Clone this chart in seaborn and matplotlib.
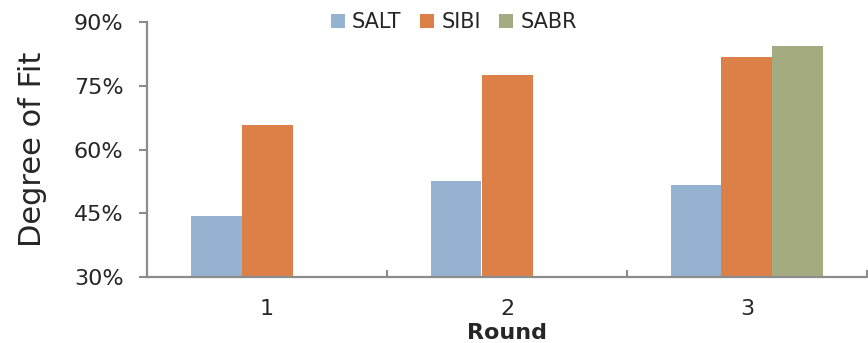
import numpy as np
import pandas as pd
import matplotlib
matplotlib.use("Agg")
import matplotlib.pyplot as plt
from matplotlib.ticker import FuncFormatter, FixedLocator
import seaborn as sns

# Degree of fit (%) per round for each method
rounds = ["1", "2", "3"]
methods = ["SALT", "SIBI", "SABR"]
salt = [44.3, 52.6, 51.6]
sibi = [65.8, 77.5, 81.8]
sabr = [np.nan, np.nan, 84.4]
colors = ["#95B3D0", "#DD8047", "#A5AB81"]

df = pd.DataFrame({
    "Round": rounds * 3,
    "Method": [m for m in methods for _ in rounds],
    "Fit": salt + sibi + sabr,
})

sns.set_style("white")
plt.rcParams["font.family"] = ["DejaVu Sans"]

fig = plt.figure(figsize=(8.68, 3.43), dpi=100)
ax = fig.add_axes([147 / 868, 66 / 343, 720 / 868, 255 / 343])

sns.barplot(data=df, x="Round", y="Fit", hue="Method", hue_order=methods,
            order=rounds, palette=colors, width=0.6375, saturation=1,
            edgecolor="none", linewidth=0, ax=ax, legend=True)

axis_grey = "#8C8C8C"
ax.set_xlim(-0.5, 2.5)
ax.set_ylim(30, 90)
ax.set_yticks([30, 45, 60, 75, 90])
ax.yaxis.set_major_formatter(FuncFormatter(lambda v, _: f"{v:.0f}%"))

for side in ("top", "right"):
    ax.spines[side].set_visible(False)
for side in ("left", "bottom"):
    ax.spines[side].set_color(axis_grey)
    ax.spines[side].set_linewidth(1.6)

ax.tick_params(axis="y", direction="out", length=6, width=1.5, color=axis_grey,
               labelsize=16, pad=11, left=True)
ax.tick_params(axis="x", which="major", length=0, labelsize=16, pad=16)
ax.xaxis.set_minor_locator(FixedLocator([0.5, 1.5, 2.5]))
ax.tick_params(axis="x", which="minor", direction="in", length=5, width=1.5,
               color=axis_grey, bottom=True)

ax.set_ylabel("Degree of Fit", fontsize=22, labelpad=19)
ax.set_xlabel("Round", fontsize=16, fontweight="bold", labelpad=3)

handles, labels = ax.get_legend_handles_labels()
ax.get_legend().remove()
fig.legend(handles, labels, loc="center", bbox_to_anchor=(454 / 868, 1 - 22 / 343),
           ncol=3, frameon=False, fontsize=15, handlelength=0.65, handleheight=0.65,
           handletextpad=0.35, columnspacing=0.9, borderaxespad=0)

fig.savefig("out.png", dpi=100, facecolor="white")
